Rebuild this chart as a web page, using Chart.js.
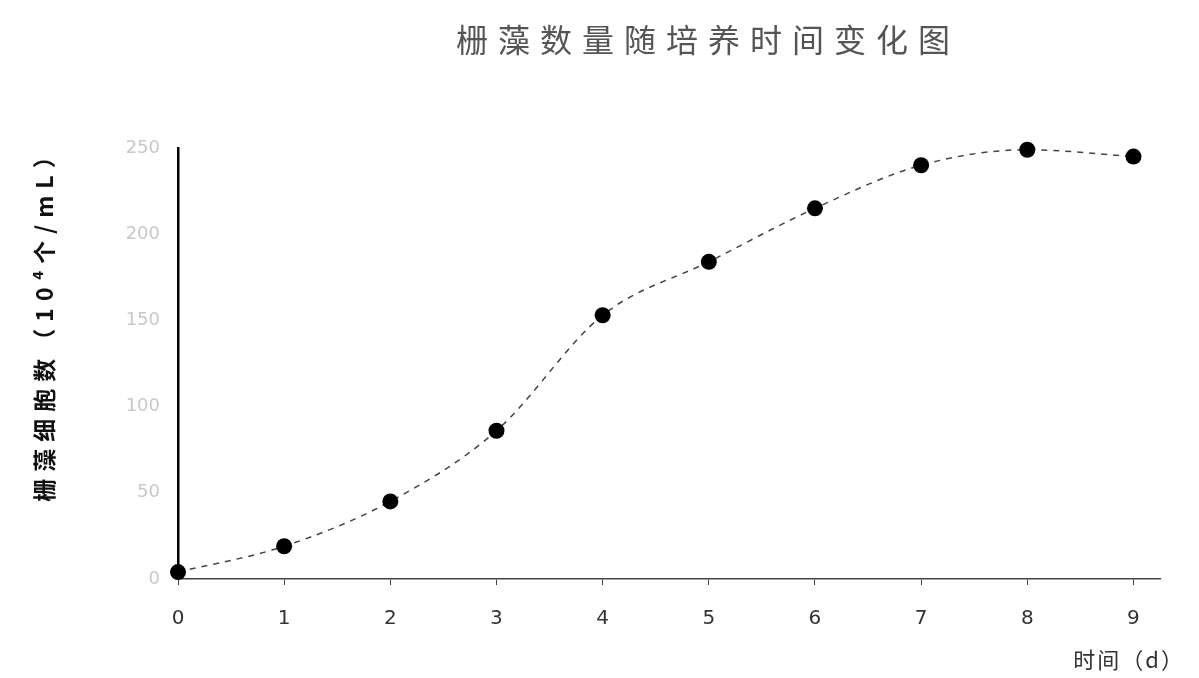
<!DOCTYPE html>
<html>
<head>
<meta charset="utf-8">
<script src="https://cdn.jsdelivr.net/npm/chart.js@4"></script>
<style>
  html, body { margin: 0; padding: 0; background: #fff; }
  #wrap { width: 1199px; height: 678px; position: relative; }
</style>
</head>
<body>
<div id="wrap"><canvas id="c" width="1199" height="678"></canvas></div>
<script>
const chartTitle = "栅藻数量随培养时间变化图";
const xAxisTitle = "时间（d）";
const yAxisTitle = "栅藻细胞数（10⁴个/mL）";
const days = [0, 1, 2, 3, 4, 5, 6, 7, 8, 9];
const cellCounts = [4, 19, 45, 86, 153, 184, 215, 240, 249, 245];
const yTicks = [0, 50, 100, 150, 200, 250];

const textPlugin = {
  id: 'texts',
  afterDraw(chart) {
    const ctx = chart.ctx;
    ctx.save();
    // main title
    ctx.fillStyle = '#555';
    ctx.font = '32px "Noto Sans CJK SC"';
    ctx.textAlign = 'center';
    ctx.textBaseline = 'middle';
    ctx.letterSpacing = '10px';
    ctx.fillText(chartTitle, 708, 40);
    // x axis title
    ctx.fillStyle = '#333';
    ctx.font = '22px "Noto Sans CJK SC"';
    ctx.letterSpacing = '2px';
    ctx.textAlign = 'right';
    ctx.fillText(xAxisTitle, 1185, 660);
    // y axis title
    ctx.translate(44, 320);
    ctx.rotate(-Math.PI / 2);
    ctx.textAlign = 'center';
    ctx.fillStyle = '#111';
    ctx.font = 'bold 23px "Noto Sans CJK SC"';
    ctx.letterSpacing = '7px';
    ctx.fillText(yAxisTitle, 0, 0);
    ctx.restore();
  }
};

new Chart(document.getElementById('c'), {
  type: 'line',
  data: {
    datasets: [{
      data: days.map((d, i) => ({ x: d, y: cellCounts[i] })),
      borderColor: '#444',
      borderWidth: 1.5,
      borderDash: [6, 6],
      tension: 0.35,
      cubicInterpolationMode: 'monotone',
      pointRadius: 8,
      pointBackgroundColor: '#000',
      pointBorderColor: '#000',
      pointBorderWidth: 0,
      fill: false,
      clip: false
    }]
  },
  options: {
    responsive: false,
    animation: false,
    layout: { padding: { left: 20, right: 39, top: 148, bottom: 0 } },
    plugins: {
      legend: { display: false },
      title: { display: false },
      tooltip: { enabled: false }
    },
    scales: {
      x: {
        type: 'linear',
        min: 0,
        max: 9.25,
        afterFit(scale) { scale.height = 99; },
        afterBuildTicks(scale) {
          scale.ticks = days.map(v => ({ value: v }));
        },
        ticks: {
          stepSize: 1,
          padding: 22,
          color: '#333',
          font: { family: 'DejaVu Sans', size: 20 },
          maxRotation: 0,
          autoSkip: false
        },
        grid: { display: true, drawOnChartArea: false, drawTicks: true, tickLength: 6, color: '#444', lineWidth: 1 },
        border: { display: true, color: '#444', width: 1.5 }
      },
      y: {
        min: 0,
        max: 250,
        afterFit(scale) { scale.width = 158; },
        afterBuildTicks(scale) {
          scale.ticks = yTicks.map(v => ({ value: v }));
        },
        ticks: {
          padding: 18,
          color: '#c8c8c8',
          font: { family: 'DejaVu Sans', size: 18 }
        },
        grid: { display: false, drawTicks: false },
        border: { display: true, color: '#000', width: 2.5 }
      }
    }
  },
  plugins: [textPlugin]
});
</script>
</body>
</html>
